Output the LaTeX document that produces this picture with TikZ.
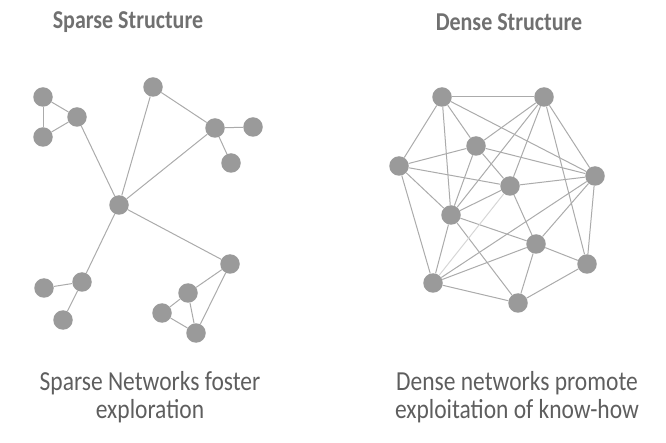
\documentclass[tikz,border=0pt]{standalone}
\usepackage{fontspec}
\setmainfont{Carlito}
\definecolor{dotgray}{HTML}{9A9A9A}
\definecolor{linegray}{HTML}{ABABAB}
\definecolor{faintgray}{HTML}{D6D6D6}
\definecolor{titlegray}{HTML}{707070}
\definecolor{textgray}{HTML}{5E5E5E}
% text in this figure is set slightly tall and narrow
\newcommand{\tallbox}[1]{\scalebox{1}[1.17]{#1}}
\begin{document}
\begin{tikzpicture}[x=1pt,y=-1pt,
  dot/.style={circle, fill=dotgray, draw=none, minimum size=19.5pt, inner sep=0pt},
  link/.style={draw=linegray, line width=1pt},
  faintlink/.style={draw=faintgray, line width=1pt},
  heading/.style={font=\fontsize{22}{24}\selectfont\bfseries, text=titlegray, inner sep=0pt},
  caption/.style={font=\fontsize{23.5}{24}\selectfont, text=textgray, inner sep=0pt}]
\useasboundingbox (0,0) rectangle (666,443);

% ---------- sparse network ----------
\node[dot] (s1) at (43,97) {};
\node[dot] (s2) at (43,137) {};
\node[dot] (s3) at (77,117) {};
\node[dot] (c)  at (119,205) {};
\node[dot] (t)  at (153,87) {};
\node[dot] (r)  at (215,128) {};
\node[dot] (r1) at (253,127) {};
\node[dot] (r2) at (231,163) {};
\node[dot] (l)  at (82,282) {};
\node[dot] (l1) at (44,288) {};
\node[dot] (l2) at (63,320) {};
\node[dot] (b)  at (230,264) {};
\node[dot] (b1) at (188,293) {};
\node[dot] (b2) at (162,313) {};
\node[dot] (b3) at (196,333) {};

\foreach \u/\v in {s1/s2, s1/s3, s2/s3, s3/c, t/c, r/c, t/r, r/r1, r/r2,
                   c/l, l/l1, l/l2, c/b, b/b1, b/b3, b1/b2, b1/b3, b2/b3}
  \draw[link] (\u) -- (\v);

% ---------- dense network ----------
\node[dot] (d1)  at (442,97) {};
\node[dot] (d2)  at (544,97) {};
\node[dot] (d3)  at (476,146) {};
\node[dot] (d4)  at (399,166) {};
\node[dot] (d5)  at (595,176) {};
\node[dot] (d6)  at (510,186) {};
\node[dot] (d7)  at (451,215) {};
\node[dot] (d8)  at (536,244) {};
\node[dot] (d9)  at (587,264) {};
\node[dot] (d10) at (433,283) {};
\node[dot] (d11) at (518,303) {};

\foreach \u/\v in {d1/d2, d1/d4, d1/d7, d1/d3, d1/d5,
                   d2/d5, d2/d9, d2/d6, d2/d3, d2/d7,
                   d3/d4, d3/d7, d3/d6, d3/d5,
                   d4/d6, d4/d7, d4/d10,
                   d5/d6, d5/d8, d5/d9, d5/d10,
                   d6/d7, d6/d8,
                   d7/d8, d7/d10, d7/d11,
                   d8/d9, d8/d10, d8/d11,
                   d9/d11, d10/d11}
  \draw[link] (\u) -- (\v);
\draw[faintlink] (d10) -- (d6);

% ---------- headings and captions ----------
\node[heading] (h1) at (128,22) {\tallbox{Sparse Structure}};
\node[heading] (h2) at (509,22) {\tallbox{Dense Structure}};
\node[caption] (k1) at (150,399)
  {\tallbox{\begin{tabular}{@{}c@{}}Sparse Networks foster\\exploration\end{tabular}}};
\node[caption] (k2) at (517,399)
  {\tallbox{\begin{tabular}{@{}c@{}}Dense networks promote\\exploitation of know-how\end{tabular}}};
\end{tikzpicture}
\end{document}
